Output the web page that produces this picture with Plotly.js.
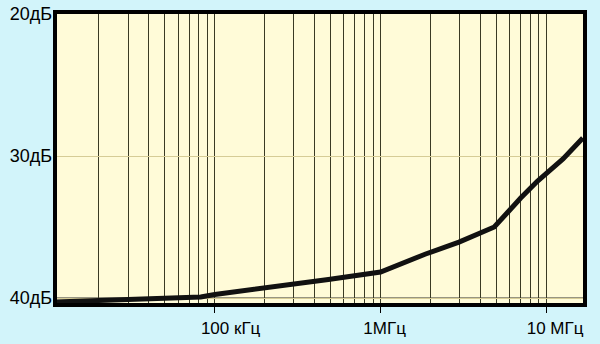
<!DOCTYPE html>
<html>
<head>
<meta charset="utf-8">
<script src="https://cdn.plot.ly/plotly-3.0.1.min.js"></script>
<style>
html,body{margin:0;padding:0;background:#d2f4fa;}
#chart{width:600px;height:344px;}
</style>
</head>
<body>
<div id="chart"></div>
<script>
// Frequency (Hz) and attenuation (dB)
const freqHz = [10900, 20400, 40900, 82200, 100000, 195000, 484000, 1000000, 1370000, 1870000, 2970000, 4850000, 7000000, 8850000, 12600000, 16600000];
const attenDb = [40.28, 40.18, 40.07, 39.93, 39.75, 39.33, 38.70, 38.17, 37.50, 36.90, 36.06, 35.00, 32.96, 31.76, 30.21, 28.73];

const xTickVals = [1e5, 1e6, 1e7];
const xTickText = ["\u00a0\u00a0\u00a0\u00a0\u00a0100 кГц", "1МГц", "\u00a0\u00a010 МГц"];
const yTickVals = [20, 30, 40];
const yTickText = ["20дБ", "30дБ", "40дБ"];

const trace = {
  x: freqHz,
  y: attenDb,
  type: 'scatter',
  mode: 'lines',
  line: {color: '#111', width: 5},
  hoverinfo: 'skip'
};

const layout = {
  width: 600,
  height: 344,
  margin: {l: 55, r: 15, t: 12, b: 39},
  paper_bgcolor: '#d2f4fa',
  plot_bgcolor: '#fffbd8',
  showlegend: false,
  font: {family: 'Liberation Sans, Arial, sans-serif', size: 18, color: '#000'},
  xaxis: {
    type: 'log',
    range: [4.036, 7.233],
    tickvals: xTickVals,
    ticktext: xTickText,
    tickfont: {size: 17},
    ticks: 'outside',
    ticklen: 7,
    tickwidth: 1,
    tickcolor: '#000',
    ticklabelshift: 4,
    ticklabelstandoff: 1,
    showgrid: true,
    gridcolor: '#3a3a24',
    gridwidth: 1,
    minor: {dtick: 'D1', showgrid: true, gridcolor: '#3a3a24', gridwidth: 1, ticks: ''},
    showline: false,
    zeroline: false,
    fixedrange: true
  },
  yaxis: {
    range: [40.49, 19.86],
    tickvals: yTickVals,
    ticktext: yTickText,
    ticks: '',
    ticklabelstandoff: 2,
    showgrid: true,
    gridcolor: '#d6cc96',
    gridwidth: 1,
    showline: false,
    zeroline: false,
    fixedrange: true
  },
  shapes: [
    {type: 'line', xref: 'paper', x0: 0, x1: 1, yref: 'y', y0: yTickVals[2], y1: yTickVals[2], line: {color: '#222', width: 1}, layer: 'below'},
    {type: 'rect', xref: 'paper', yref: 'paper', x0: 0, x1: 1, y0: 0, y1: 1, line: {color: '#000', width: 4}}
  ]
};

Plotly.newPlot('chart', [trace], layout, {displayModeBar: false, staticPlot: true});
</script>
</body>
</html>
